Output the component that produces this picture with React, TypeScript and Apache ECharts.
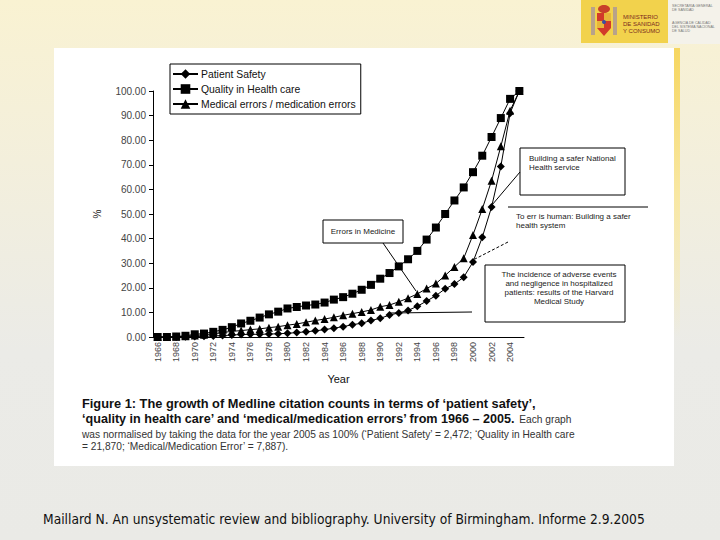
import React, { useEffect, useRef } from "react";
import * as echarts from "echarts";

const years = [
  "1966","1967","1968","1969","1970","1971","1972","1973","1974","1975",
  "1976","1977","1978","1979","1980","1981","1982","1983","1984","1985",
  "1986","1987","1988","1989","1990","1991","1992","1993","1994","1995",
  "1996","1997","1998","1999","2000","2001","2002","2003","2004","2005",
];

const patientSafety = [
  0, 0, 0, 0.1, 0.2, 0.3, 0.4, 0.6, 0.8, 1.0,
  1.1, 1.1, 1.2, 1.3, 1.5, 1.8, 2.1, 2.5, 3.0, 3.6,
  4.2, 5.0, 5.6, 6.7, 7.6, 8.9, 9.8, 10.8, 12.5, 14.6,
  16.8, 19.6, 21.5, 24.3, 30.5, 40.5, 52.8, 69.3, 91.0, 100,
];

const qualityHealthCare = [
  0, 0, 0.2, 0.5, 1.1, 1.4, 2.1, 2.9, 4.0, 5.5,
  6.6, 7.9, 9.2, 10.3, 11.6, 12.2, 12.8, 13.2, 14.0, 15.2,
  16.2, 17.6, 19.2, 21.2, 23.7, 26.0, 28.7, 31.6, 35.0, 39.6,
  44.5, 50.0, 55.5, 60.8, 67.0, 73.7, 81.3, 89.0, 96.8, 100,
];

const medicalErrors = [
  0, 0, 0.1, 0.3, 0.6, 0.9, 1.3, 1.8, 2.3, 2.6,
  3.0, 3.3, 3.8, 4.2, 4.8, 5.3, 6.0, 6.7, 7.3, 8.0,
  8.8, 9.5, 10.2, 11.0, 12.3, 13.0, 14.3, 15.8, 17.5, 19.7,
  21.7, 25.0, 28.5, 32.0, 41.5, 52.0, 63.5, 77.5, 92.0, 100,
];

const seriesNames = [
  "Patient Safety",
  "Quality in Health care",
  "Medical errors / medication errors",
];

const FONT = "'Liberation Sans', Arial, sans-serif";

export default function App() {
  const ref = useRef<HTMLDivElement>(null);

  useEffect(() => {
    if (!ref.current) return;
    const chart = echarts.init(ref.current, null, { renderer: "svg" });

    const lineStyle = { color: "#000", width: 1 };
    const mk = (name: string, data: number[], symbol: string, size: number) => ({
      name,
      type: "line",
      data,
      symbol,
      symbolSize: size,
      showAllSymbol: true,
      lineStyle,
      itemStyle: { color: "#000" },
      emphasis: { disabled: true },
    });

    const txt = (x: number, y: number, text: string, style: any = {}) => ({
      type: "text",
      x,
      y,
      z: 20,
      style: {
        text,
        fontFamily: FONT,
        fontSize: 8,
        fill: "#222",
        verticalAlign: "middle",
        ...style,
      },
    });

    const ln = (x1: number, y1: number, x2: number, y2: number, dash?: number[]) => ({
      type: "line",
      z: 20,
      shape: { x1, y1, x2, y2 },
      style: { stroke: "#000", lineWidth: 1, lineDash: dash },
    });

    const rect = (x: number, y: number, w: number, h: number, style: any = {}) => ({
      type: "rect",
      z: 5,
      shape: { x, y, width: w, height: h },
      style: { fill: "#fff", stroke: "#000", lineWidth: 1, ...style },
    });

    const graphics: any[] = [
      // Logo block
      rect(581, 0, 87, 43, { fill: "#f2d24c", stroke: "none" }),
      { type: "rect", z: 6, shape: { x: 591, y: 7, width: 4, height: 28 }, style: { fill: "#b8a28a" } },
      { type: "rect", z: 6, shape: { x: 613, y: 7, width: 4, height: 28 }, style: { fill: "#b8a28a" } },
      { type: "ellipse", z: 6, shape: { cx: 604, cy: 9, rx: 6, ry: 4 }, style: { fill: "#c8402a" } },
      { type: "polygon", z: 6, shape: { points: [[597, 13], [611, 13], [611, 28], [604, 36], [597, 28]] }, style: { fill: "#d23a2a" } },
      { type: "rect", z: 7, shape: { x: 604, y: 13, width: 7, height: 8 }, style: { fill: "#e8b63a" } },
      { type: "rect", z: 7, shape: { x: 597, y: 21, width: 7, height: 7 }, style: { fill: "#e8b63a" } },
      { type: "circle", z: 7, shape: { cx: 604, cy: 22, r: 2 }, style: { fill: "#3c4fa0" } },
      txt(623, 17, "MINISTERIO", { fontSize: 6, fill: "#7a2a1e" }),
      txt(623, 24, "DE SANIDAD", { fontSize: 6, fill: "#7a2a1e" }),
      txt(623, 31, "Y CONSUMO", { fontSize: 6, fill: "#7a2a1e" }),
      txt(672, 6, "SECRETARÍA GENERAL", { fontSize: 3.6, fill: "#777" }),
      txt(672, 10, "DE SANIDAD", { fontSize: 3.6, fill: "#777" }),
      txt(672, 23, "AGENCIA DE CALIDAD", { fontSize: 3.6, fill: "#777" }),
      txt(672, 27, "DEL SISTEMA NACIONAL", { fontSize: 3.6, fill: "#777" }),
      txt(672, 31, "DE SALUD", { fontSize: 3.6, fill: "#777" }),

      // Annotation: Building a safer NHS
      rect(520, 148, 105, 47),
      txt(529, 158, "Building a safer National", { fontSize: 8 }),
      txt(529, 167, "Health service", { fontSize: 8 }),
      ln(520, 172, 492, 205),

      // Annotation: To err is human
      ln(508, 207, 648, 207),
      txt(516, 216, "To err is human: Building a safer", { fontSize: 8 }),
      txt(516, 225, "health system", { fontSize: 8 }),
      ln(508, 242, 475, 259, [3, 2]),

      // Annotation: Harvard
      rect(485, 265, 140, 57),
      txt(559, 274, "The incidence of adverse events", { fontSize: 8, align: "center" }),
      txt(559, 283, "and negligence in hospitalized", { fontSize: 8, align: "center" }),
      txt(559, 292, "patients: results of the Harvard", { fontSize: 8, align: "center" }),
      txt(559, 301, "Medical Study", { fontSize: 8, align: "center" }),
      ln(390, 313, 472, 312),

      // Annotation: Errors in Medicine
      rect(323, 220, 80, 23),
      txt(363, 231, "Errors in Medicine", { fontSize: 8, align: "center" }),
      ln(383, 243, 416, 291),

      // Caption
      txt(82, 403, "Figure 1: The growth of Medline citation counts in terms of \u2018patient safety\u2019,", {
        fontSize: 12.8, fontWeight: "bold", fill: "#111",
      }),
      {
        type: "text",
        x: 82,
        y: 419,
        z: 20,
        style: {
          text: "{b|\u2018quality in health care\u2019 and \u2018medical/medication errors\u2019 from 1966 \u2013 2005.} {r|Each graph}",
          fontFamily: FONT,
          verticalAlign: "middle",
          rich: {
            b: { fontSize: 12.6, fontWeight: "bold", fill: "#111", fontFamily: FONT },
            r: { fontSize: 10.2, fill: "#333", fontFamily: FONT },
          },
        },
      },
      txt(82, 434, "was normalised by taking the data for the year 2005 as 100% (\u2018Patient Safety\u2019 = 2,472; \u2018Quality in Health care", {
        fontSize: 10.2, fill: "#333",
      }),
      txt(82, 446, "= 21,870; \u2018Medical/Medication Error\u2019 = 7,887).", { fontSize: 10.2, fill: "#333" }),

      // Source line
      txt(43, 519, "Maillard N. An unsystematic review and bibliography. University of Birmingham. Informe 2.9.2005", {
        fontSize: 13.7, fill: "#111", fontFamily: "'DejaVu Sans Condensed', 'DejaVu Sans', sans-serif",
      }),
    ];

    chart.setOption({
      animation: false,
      backgroundColor: "transparent",
      grid: { left: 153, top: 91, width: 371, height: 246, containLabel: false },
      legend: {
        show: true,
        orient: "vertical",
        left: 170,
        top: 64,
        itemWidth: 25,
        itemHeight: 12,
        itemGap: 5,
        padding: [5, 5, 5, 2],
        borderColor: "#000",
        borderWidth: 1,
        backgroundColor: "#fff",
        data: seriesNames,
        textStyle: { fontFamily: FONT, fontSize: 10.4, color: "#111", padding: [0, 0, 0, -2] },
        selectedMode: false,
      },
      xAxis: {
        type: "category",
        data: years,
        boundaryGap: true,
        axisLine: { lineStyle: { color: "#000", width: 1 } },
        axisTick: { alignWithLabel: true, interval: 0, length: 4, lineStyle: { color: "#000" } },
        axisLabel: { interval: 1, rotate: 90, fontSize: 9, color: "#444", fontFamily: FONT, margin: 5 },
        name: "Year",
        nameLocation: "middle",
        nameGap: 36,
        nameTextStyle: { fontSize: 11, color: "#111", fontFamily: FONT },
        splitLine: { show: false },
      },
      yAxis: {
        type: "value",
        min: 0,
        max: 100,
        interval: 10,
        splitLine: { show: false },
        axisLine: { show: true, lineStyle: { color: "#000", width: 1 } },
        axisTick: { show: true, length: 4, lineStyle: { color: "#000" } },
        axisLabel: {
          formatter: (v: number) => v.toFixed(2),
          fontSize: 10,
          color: "#444",
          fontFamily: FONT,
          margin: 7,
        },
        name: "%",
        nameLocation: "middle",
        nameGap: 51,
        nameRotate: 90,
        nameTextStyle: { fontSize: 10, color: "#222", fontFamily: FONT },
      },
      graphic: { elements: graphics },
      series: [
        mk(seriesNames[0], patientSafety, "diamond", 8),
        mk(seriesNames[1], qualityHealthCare, "rect", 8),
        mk(seriesNames[2], medicalErrors, "triangle", 8),
      ],
    });

    return () => chart.dispose();
  }, []);

  return (
    <div
      style={{
        position: "absolute",
        left: 0,
        top: 0,
        width: 720,
        height: 540,
        overflow: "hidden",
        background: "linear-gradient(180deg, #f9f2d2 0%, #f3efdc 30%, #ebebe7 65%, #eaeae6 100%)",
      }}
    >
      <div style={{ position: "absolute", left: 668, top: 0, width: 52, height: 44, background: "#f4f2ea" }} />
      <div
        style={{
          position: "absolute",
          left: 673,
          top: 48,
          width: 7,
          height: 290,
          background: "linear-gradient(180deg, #f6d660 0%, #f8e7a2 50%, rgba(245,240,220,0) 100%)",
        }}
      />
      <div style={{ position: "absolute", left: 54, top: 48, width: 620, height: 418, background: "#ffffff" }} />
      <div ref={ref} style={{ position: "absolute", left: 0, top: 0, width: 720, height: 540 }} />
    </div>
  );
}
